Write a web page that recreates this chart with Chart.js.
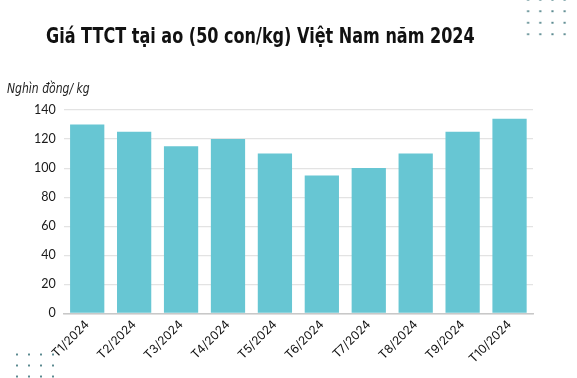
<!DOCTYPE html>
<html lang="vi">
<head>
<meta charset="utf-8">
<script src="https://cdn.jsdelivr.net/npm/chart.js@4/dist/chart.umd.min.js"></script>
<style>
  html, body { margin: 0; padding: 0; background: #fff; }
  #wrap { position: relative; width: 577px; height: 378px; overflow: hidden; }
  #chart { position: absolute; left: 0; top: 0; }
  #title {
    position: absolute; left: 46px; top: 24px; margin: 0;
    font: bold 21px 'DejaVu Sans Condensed', sans-serif;
    color: #111; white-space: nowrap;
    transform: scaleX(0.85); transform-origin: left top;
  }
  #unit {
    position: absolute; left: 7px; top: 80px;
    font: italic 14px 'DejaVu Sans Condensed', sans-serif;
    color: #222; white-space: nowrap;
    transform: scaleX(0.86); transform-origin: left top;
  }
  .dots {
    position: absolute;
    background-image: radial-gradient(circle, #5b8a90 0.9px, transparent 1.3px);
  }
  #dots-tr { left: 522px; top: -6px; width: 52px; height: 46px; background-size: 12.2px 11.5px; }
  #dots-bl { left: 11px; top: 349px; width: 48px; height: 34px; background-size: 12px 11px; }
</style>
</head>
<body>
<div id="wrap">
  <canvas id="chart" width="577" height="378"></canvas>
  <div class="dots" id="dots-tr"></div>
  <div class="dots" id="dots-bl"></div>
  <h1 id="title">Giá TTCT tại ao (50 con/kg) Việt Nam năm 2024</h1>
  <div id="unit">Nghìn đồng/ kg</div>
</div>
<script>
const months = ['T1/2024', 'T2/2024', 'T3/2024', 'T4/2024', 'T5/2024',
  'T6/2024', 'T7/2024', 'T8/2024', 'T9/2024', 'T10/2024'];
const prices = [130, 125, 115, 120, 110, 95, 100, 110, 125, 134];
const yTicks = [0, 20, 40, 60, 80, 100, 120, 140];

const barColor = '#67c6d3';

new Chart(document.getElementById('chart'), {
  type: 'bar',
  data: {
    labels: months,
    datasets: [{
      label: 'Giá',
      data: prices,
      backgroundColor: barColor,
      borderWidth: 0,
      categoryPercentage: 1,
      barPercentage: 0.73,
    }],
  },
  options: {
    responsive: false,
    animation: false,
    devicePixelRatio: 1,
    layout: { padding: { top: 110, right: 44, left: 26, bottom: 8 } },
    plugins: {
      legend: { display: false },
      tooltip: { enabled: false },
    },
    scales: {
      x: {
        grid: { display: false, drawTicks: false },
        border: { color: '#c8c8c8', width: 1.5 },
        ticks: {
          color: '#111',
          font: { family: 'Inter, Roboto, sans-serif', size: 12 },
          minRotation: 45,
          maxRotation: 45,
          padding: 4,
        },
      },
      y: {
        min: 0,
        max: 140,
        afterBuildTicks: (axis) => {
          axis.ticks = yTicks.map((v) => ({ value: v }));
        },
        grid: { color: '#e3e3e3', lineWidth: 1.2, drawTicks: false },
        border: { display: false },
        ticks: {
          color: '#1a1a1a',
          font: { family: 'Lato, Inter, sans-serif', size: 12.5 },
          padding: 8,
        },
      },
    },
  },
});
</script>
</body>
</html>
